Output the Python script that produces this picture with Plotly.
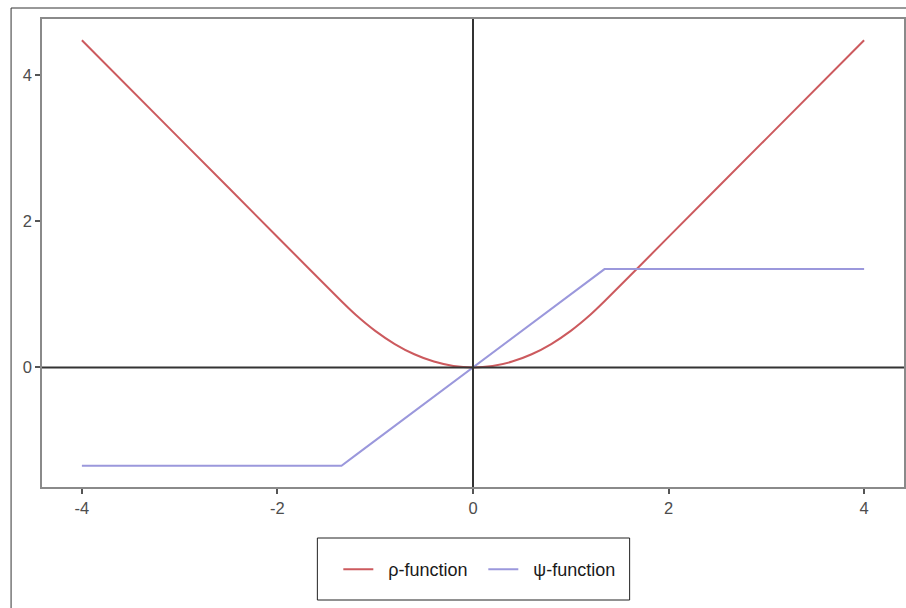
import plotly.graph_objects as go

# values
x_vals = [-4.0, -3.0, -2.0, -1.345, -1.2, -1.0, -0.8, -0.6, -0.4, -0.2, 0.0,
          0.2, 0.4, 0.6, 0.8, 1.0, 1.2, 1.345, 2.0, 3.0, 4.0]
rho_vals = [4.4755, 3.1305, 1.7855, 0.9045, 0.72, 0.5, 0.32, 0.18, 0.08, 0.02, 0.0,
            0.02, 0.08, 0.18, 0.32, 0.5, 0.72, 0.9045, 1.7855, 3.1305, 4.4755]
psi_vals = [-1.345, -1.345, -1.345, -1.345, -1.2, -1.0, -0.8, -0.6, -0.4, -0.2, 0.0,
            0.2, 0.4, 0.6, 0.8, 1.0, 1.2, 1.345, 1.345, 1.345, 1.345]
series_names = ["ρ-function", "ψ-function"]
x_ticks = [-4, -2, 0, 2, 4]
y_ticks = [0, 2, 4]

fig = go.Figure()
fig.add_trace(go.Scatter(x=x_vals, y=rho_vals, mode="lines",
                         name="\u00a0\u00a0" + series_names[0],
                         line=dict(color="#cc5a5e", width=2, shape="spline", smoothing=0.6)))
fig.add_trace(go.Scatter(x=x_vals, y=psi_vals, mode="lines",
                         name="\u00a0\u00a0" + series_names[1],
                         line=dict(color="#9b98dc", width=2)))

# zero reference lines
fig.add_hline(y=0, line=dict(color="#333333", width=2), layer="above")
fig.add_vline(x=0, line=dict(color="#333333", width=2), layer="above")

L, R, T, B = 42, 0, 19, 121
W, H = 906, 608
pw, ph = W - L - R, H - T - B


def px_x(p):
    return (p - L) / pw


def px_y(p):
    return (T + ph - p) / ph


# outer frame (left edge at x=11, top at y=8)
fig.add_shape(type="rect", xref="paper", yref="paper",
              x0=px_x(11), x1=px_x(W + 5), y0=px_y(H + 5), y1=px_y(8),
              line=dict(color="#333333", width=1), layer="below")
# legend box
fig.add_shape(type="rect", xref="paper", yref="paper",
              x0=px_x(318), x1=px_x(631), y0=px_y(600), y1=px_y(538),
              line=dict(color="#222222", width=1), layer="below")

axis_common = dict(showgrid=False, zeroline=False, showline=True, mirror=True,
                   linecolor="#8a8a8a", linewidth=1.5, ticks="outside", ticklen=5,
                   tickwidth=1.5, tickcolor="#555555",
                   tickfont=dict(size=16.5, color="#4d4d4d"))
fig.update_xaxes(range=[-4.408, 4.408], tickvals=x_ticks, ticktext=[str(v) for v in x_ticks],
                 **axis_common)
fig.update_yaxes(range=[-1.636, 4.767], tickvals=y_ticks, ticktext=[str(v) for v in y_ticks],
                 **axis_common)

fig.update_layout(
    width=W, height=H,
    margin=dict(l=L, r=R, t=T, b=B),
    paper_bgcolor="white", plot_bgcolor="white",
    font=dict(family="Liberation Sans, Arial, sans-serif", color="#333333"),
    showlegend=True,
    legend=dict(orientation="h", x=px_x(339), xanchor="left", y=px_y(551), yanchor="top",
                borderwidth=0, bgcolor="rgba(0,0,0,0)",
                font=dict(size=18, color="#1a1a1a"), itemwidth=30,
                entrywidth=100),
)

fig.write_html("out.html", config={"displayModeBar": False},
               post_script="document.body.style.margin='0';")
